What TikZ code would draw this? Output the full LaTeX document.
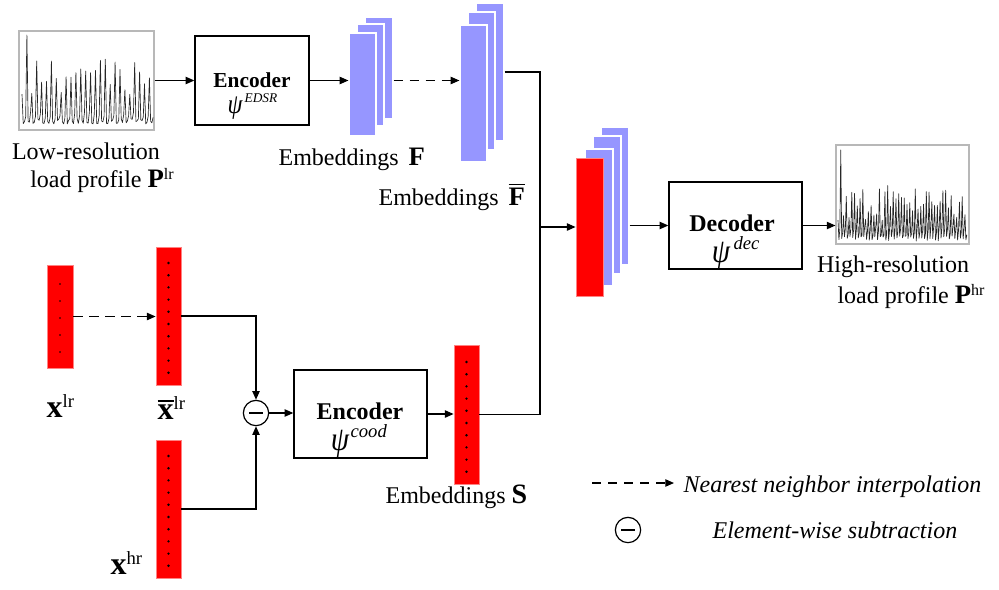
\documentclass[tikz,border=0pt]{standalone}
\usepackage{fontspec}
\usepackage{graphicx}
\setmainfont{Liberation Serif}
\usetikzlibrary{arrows.meta}
\definecolor{embblue}{RGB}{150,150,255}
\definecolor{redline}{RGB}{255,130,130}
\newcommand{\supx}[3][12]{\raisebox{#2}{\fontsize{#1}{#1}\selectfont\mdseries #3}}
\newcommand{\obar}[1]{\leavevmode\vbox{\hrule height 1.3pt\kern 1.6pt\hbox{#1}}}
\newcommand{\tallpsi}{\scalebox{1}[1.15]{\itshape ψ}}
\begin{document}
\begin{tikzpicture}[x=0.75pt,y=-0.75pt,line width=0.9pt,
  sz/.style 2 args={minimum width=#1*0.75pt,minimum height=#2*0.75pt},
  arr/.style={-{Triangle[length=6.5pt,width=5.5pt]}},
  dsh/.style={dash pattern=on 7pt off 5pt},
  blk/.style={draw=black,line width=1pt,inner sep=0pt,rectangle},
  frm/.style={draw=black!28,line width=0.8pt,inner sep=0pt,rectangle},
  bl/.style={fill=embblue,draw=white,line width=0.9pt,inner sep=0pt,rectangle},
  rd/.style={fill=red,draw=redline,line width=0.6pt,inner sep=0pt,rectangle},
  txt/.style={inner sep=0pt,font=\fontsize{18}{20}\selectfont},
  itx/.style={inner sep=0pt,font=\fontsize{18}{20}\selectfont\itshape},
  sig/.style={line width=0.5pt,black!85,line join=round},
  psin/.style={inner sep=0pt,anchor=base,text height=0.45em,text depth=0.2em},
  mcirc/.style={circle,draw,line width=0.9pt,minimum size=19pt,inner sep=0pt}]
\useasboundingbox (0,0) rectangle (999,589);

% ---- low-resolution profile
\node[frm,sz={135}{99}] (lrplot) at (86.5,80.5) {};
\pgfmathsetseed{12}
\draw[sig] plot[samples at={0,...,107},variable=\k] ({22+\k*1.225},{\k==4 ? 35 : (mod(\k,4)==0 ? 95-rnd*36 : (mod(\k,4)==1 ? 118+rnd*6 : (mod(\k,4)==2 ? 119+rnd*5 : 112+rnd*8)))});
\node[txt,anchor=base] (lrA) at (86,159) {Low-resolution};
\node[txt,anchor=base] (lrB) at (102,187) {load profile \textbf{\fontsize{20}{20}\selectfont P}\supx{5.5pt}{lr}};

% ---- encoder EDSR
\node[blk,sz={114}{89}] (enc1) at (252,80.5) {};
\node[inner sep=0pt,anchor=base,font=\fontsize{16}{18}\selectfont\bfseries] (enc1a) at (252,87) {Encoder};
\node[psin,font=\fontsize{18}{20}\selectfont] (enc1b) at (235,113) {\tallpsi};
\node[inner sep=0pt,anchor=base west,font=\fontsize{10}{10}\selectfont\itshape] (enc1c) at (244,102) {EDSR};

% ---- embeddings F
\node[bl,sz={28}{102}] (F2) at (379,68) {};
\node[bl,sz={27}{102}] (F1) at (370.5,75) {};
\node[bl,sz={27}{103}] (F0) at (362.5,84.5) {};
\node[txt,anchor=base west] (Ft) at (278,165) {Embeddings \,\textbf{\fontsize{20}{20}\selectfont F}};

% ---- embeddings Fbar
\node[bl,sz={28}{138}] (G2) at (490,72) {};
\node[bl,sz={27}{138}] (G1) at (481.5,81) {};
\node[bl,sz={27}{137}] (G0) at (473.5,93.5) {};
\node[txt,anchor=base west] (Gt) at (378,205) {Embeddings \,\obar{\textbf{\fontsize{20}{20}\selectfont F}}};

% ---- combined stack
\node[bl,sz={28}{138}] (C3) at (615,196) {};
\node[bl,sz={28}{138}] (C2) at (607,205) {};
\node[bl,sz={28}{137}] (C1) at (599,217.5) {};
\node[rd,sz={27}{138}] (C0) at (589.5,227) {};

% ---- decoder
\node[blk,sz={133}{87}] (dec) at (735.5,225.5) {};
\node[inner sep=0pt,anchor=base,font=\fontsize{18}{20}\selectfont\bfseries] (deca) at (732,231) {Decoder};
\node[psin,font=\fontsize{22}{24}\selectfont] (decb) at (721,262) {\tallpsi};
\node[inner sep=0pt,anchor=base west,font=\fontsize{14}{14}\selectfont\itshape] (decc) at (733,249) {dec};

% ---- high-resolution profile
\node[frm,sz={133}{99}] (hrplot) at (902.5,194.5) {};
\pgfmathsetseed{5}
\draw[sig] plot[samples at={0,...,140},variable=\k] ({838+\k*0.92},{\k==3 ? 150 : (mod(\k,3)==0 ? 222-rnd*38 : (mod(\k,3)==1 ? 236+rnd*5 : 226+rnd*10))});
\node[txt,anchor=base] (hrA) at (893,272) {High-resolution};
\node[txt,anchor=base] (hrB) at (911,303) {load profile \textbf{\fontsize{20}{20}\selectfont P}\supx{5.5pt}{hr}};

% ---- coordinate vectors
\node[rd,sz={26}{103}] (xlr) at (60,316.5) {};
\foreach \i in {0,...,4} \fill (60,{284+\i*17}) circle (0.7pt);
\node[rd,sz={25}{138}] (xbar) at (168.5,316) {};
\foreach \i in {0,...,9} \fill (168.5,{263+\i*12.2}) circle (1pt);
\node[rd,sz={25}{138}] (xhr) at (168.5,509) {};
\foreach \i in {0,...,9} \fill (168.5,{456+\i*12.2}) circle (1pt);

\node[inner sep=0pt,anchor=base west] (xlrt) at (46,417) {\fontsize{24}{24}\selectfont\textbf{x}\supx[14]{7pt}{lr}};
\node[inner sep=0pt,anchor=base west] (xbart) at (157,419) {\fontsize{24}{24}\selectfont\obar{\textbf{x}}\supx[14]{7pt}{lr}};
\node[inner sep=0pt,anchor=base west] (xhrt) at (110,574) {\fontsize{24}{24}\selectfont\textbf{x}\supx[14]{7pt}{hr}};

% ---- subtraction
\node[mcirc] (minus) at (256,413) {};
\draw ([xshift=-5pt]minus.center) -- ([xshift=5pt]minus.center);

% ---- encoder cood
\node[blk,sz={133}{88}] (enc2) at (360.5,414) {};
\node[inner sep=0pt,anchor=base,font=\fontsize{18}{20}\selectfont\bfseries] (enc2a) at (360,419) {Encoder};
\node[psin,font=\fontsize{22}{24}\selectfont] (enc2b) at (340,450) {\tallpsi};
\node[inner sep=0pt,anchor=base west,font=\fontsize{14}{14}\selectfont\itshape] (enc2c) at (350,437) {cood};

% ---- embeddings S
\node[rd,sz={25}{139}] (S) at (466.5,414.5) {};
\foreach \i in {0,...,9} \fill (466.5,{362+\i*12.2}) circle (1pt);
\node[txt,anchor=base west] (St) at (385,503) {Embeddings \textbf{\fontsize{21}{21}\selectfont S}};

% ---- connectors
\coordinate (j) at (540,227);
\draw[arr] (lrplot.east) -- (enc1.west);
\draw[arr] (enc1.east) -- (enc1.east -| F0.west);
\draw[arr,dsh] (enc1.east -| F2.east) -- (enc1.east -| G0.west);
\draw (G2.east) -| (j);
\draw (S.east) -| (j);
\draw[arr] (j) -- (C0.west);
\draw[arr] (C3.east |- dec.west) -- (dec.west);
\draw[arr] (dec.east) -- (dec.east -| hrplot.west);
\draw[arr,dsh] (xlr.east) -- (xlr.east -| xbar.west);
\draw[arr] (xbar.east) -| (minus.north);
\draw[arr] (xhr.east) -| (minus.south);
\draw[arr] (minus.east) -- (minus.east -| enc2.west);
\draw[arr] (enc2.east) -- (enc2.east -| S.west);

% ---- legend
\coordinate (la) at (592,483);
\coordinate (lb) at (674,483);
\draw[arr,dsh] (la) -- (lb);
\node[itx,anchor=base west] (lt1) at (683,492) {Nearest neighbor interpolation};
\node[mcirc] (lgm) at (628,530) {};
\draw ([xshift=-5pt]lgm.center) -- ([xshift=5pt]lgm.center);
\node[itx,anchor=base west] (lt2) at (712,538) {Element-wise subtraction};
\end{tikzpicture}
\end{document}
